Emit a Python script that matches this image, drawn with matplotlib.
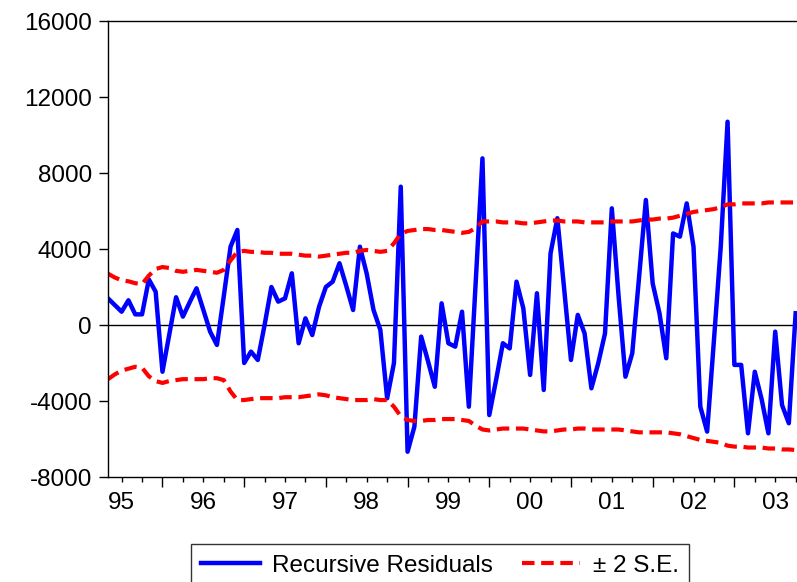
import numpy as np
import matplotlib.pyplot as plt

plt.rcParams['font.family'] = ['Liberation Sans', 'DejaVu Sans']
plt.rcParams['axes.unicode_minus'] = False

# monthly observations, first one is 1995M05
start_year = 1995
start_month = 5
year_labels = ['95', '96', '97', '98', '99', '00', '01', '02', '03']

residuals = [
    1400, 1050, 700, 1300, 560, 560, 2400, 1750, -2460, -500,
    1460, 440, 1200, 1930, 800, -350, -1050, 1500, 4120, 5000,
    -2000, -1400, -1840, 0, 2000, 1230, 1400, 2720, -960, 350,
    -530, 960, 2000, 2280, 3250, 2050, 790, 4120, 2700, 790,
    -260, -3860, -2000, 7280, -6670, -5350, -610, -1900, -3250, 1140,
    -960, -1140, 700, -4300, 2200, 8770, -4740, -2900, -960, -1230,
    2280, 880, -2630, 1670, -3420, 3770, 5620, 1900, -1840, 530,
    -440, -3330, -2020, -440, 6140, 1490, -2720, -1490, 2500, 6580,
    2190, 620, -1750, 4820, 4650, 6400, 4120, -4300, -5610, -800,
    4120, 10700, -2100, -2100, -5700, -2460, -3900, -5700, -350, -4210,
    -5170, 620,
]

upper_se = [
    2700, 2500, 2350, 2300, 2200, 2150, 2600, 2950, 3050, 3000,
    2850, 2800, 2850, 2900, 2850, 2800, 2750, 2900, 3400, 3850,
    3900, 3850, 3850, 3800, 3800, 3750, 3750, 3750, 3700, 3650,
    3650, 3600, 3650, 3700, 3750, 3800, 3800, 3900, 3950, 3900,
    3850, 3900, 4300, 4800, 4950, 5000, 5050, 5050, 5000, 5000,
    4950, 4900, 4850, 4900, 5100, 5450, 5450, 5450, 5400, 5400,
    5400, 5350, 5350, 5400, 5450, 5500, 5500, 5450, 5450, 5450,
    5400, 5400, 5400, 5400, 5450, 5450, 5450, 5450, 5500, 5550,
    5550, 5600, 5600, 5650, 5750, 5850, 5950, 6000, 6050, 6100,
    6200, 6350, 6350, 6400, 6400, 6400, 6400, 6450, 6450, 6450,
    6450, 6450,
]

lower_se = [
    -2850, -2600, -2400, -2300, -2200, -2250, -2700, -2950, -3050, -2950,
    -2900, -2850, -2850, -2850, -2850, -2800, -2800, -2900, -3500, -3950,
    -3950, -3900, -3850, -3850, -3850, -3850, -3800, -3800, -3800, -3750,
    -3700, -3650, -3700, -3800, -3850, -3900, -3950, -3950, -3950, -3900,
    -3950, -3950, -4300, -4800, -5000, -5050, -5050, -5000, -5000, -4950,
    -4950, -4950, -5000, -5050, -5300, -5500, -5550, -5500, -5450, -5450,
    -5450, -5450, -5500, -5550, -5600, -5600, -5550, -5500, -5500, -5450,
    -5450, -5500, -5500, -5500, -5500, -5500, -5550, -5600, -5650, -5650,
    -5650, -5650, -5650, -5700, -5750, -5850, -5950, -6050, -6100, -6150,
    -6200, -6350, -6400, -6400, -6450, -6450, -6450, -6500, -6500, -6550,
    -6550, -6580,
]

t = start_year + (start_month - 1 + np.arange(len(residuals))) / 12.0

fig = plt.figure(figsize=(7.97, 5.82), dpi=100)
ax = fig.add_axes([108 / 797, 105 / 582, 1 - 108 / 797, 456 / 582])

ax.axhline(0, color='black', linewidth=1)
ax.plot(t, residuals, color='#0000FF', linewidth=3.2, label='Recursive Residuals')
ax.plot(t, upper_se, color='#FF0000', linewidth=3, dashes=(3, 1.6), label='± 2 S.E.')
ax.plot(t, lower_se, color='#FF0000', linewidth=3, dashes=(3, 1.6))

ax.set_xlim(t[0], t[0] + 689 / 81.7)
ax.set_ylim(-8000, 16000)
ax.set_yticks(np.arange(-8000, 16001, 4000))
ax.tick_params(axis='y', direction='out', length=6.5, width=1, labelsize=17.5, pad=5)

years = np.arange(start_year + 1, start_year + len(year_labels))
ax.set_xticks(years)
ax.set_xticklabels([])
quarters = np.arange(start_year + 0.5, start_year + len(year_labels), 0.25)
ax.set_xticks([q for q in quarters if q % 1 != 0], minor=True)
ax.tick_params(axis='x', which='major', direction='out', length=7.5, width=1)
ax.tick_params(axis='x', which='minor', direction='out', length=3.8, width=1)

# year labels sit in the middle of each year
for i, lab in enumerate(year_labels):
    ax.text(start_year + i + 0.5, -0.057, lab, transform=ax.get_xaxis_transform(),
            ha='center', va='center', fontsize=17.5)

ax.spines['right'].set_visible(False)
for s in ['left', 'top', 'bottom']:
    ax.spines[s].set_linewidth(1)

leg = fig.legend(loc='upper center', bbox_to_anchor=(440 / 797, 1 - 544 / 582), ncol=2,
                 fontsize=17.5, frameon=True, fancybox=False, edgecolor='black',
                 handlelength=2.4, columnspacing=1.2, handletextpad=0.5,
                 borderpad=0.45, borderaxespad=0)
leg.get_frame().set_linewidth(1)

fig.savefig('out.png', dpi=100)
